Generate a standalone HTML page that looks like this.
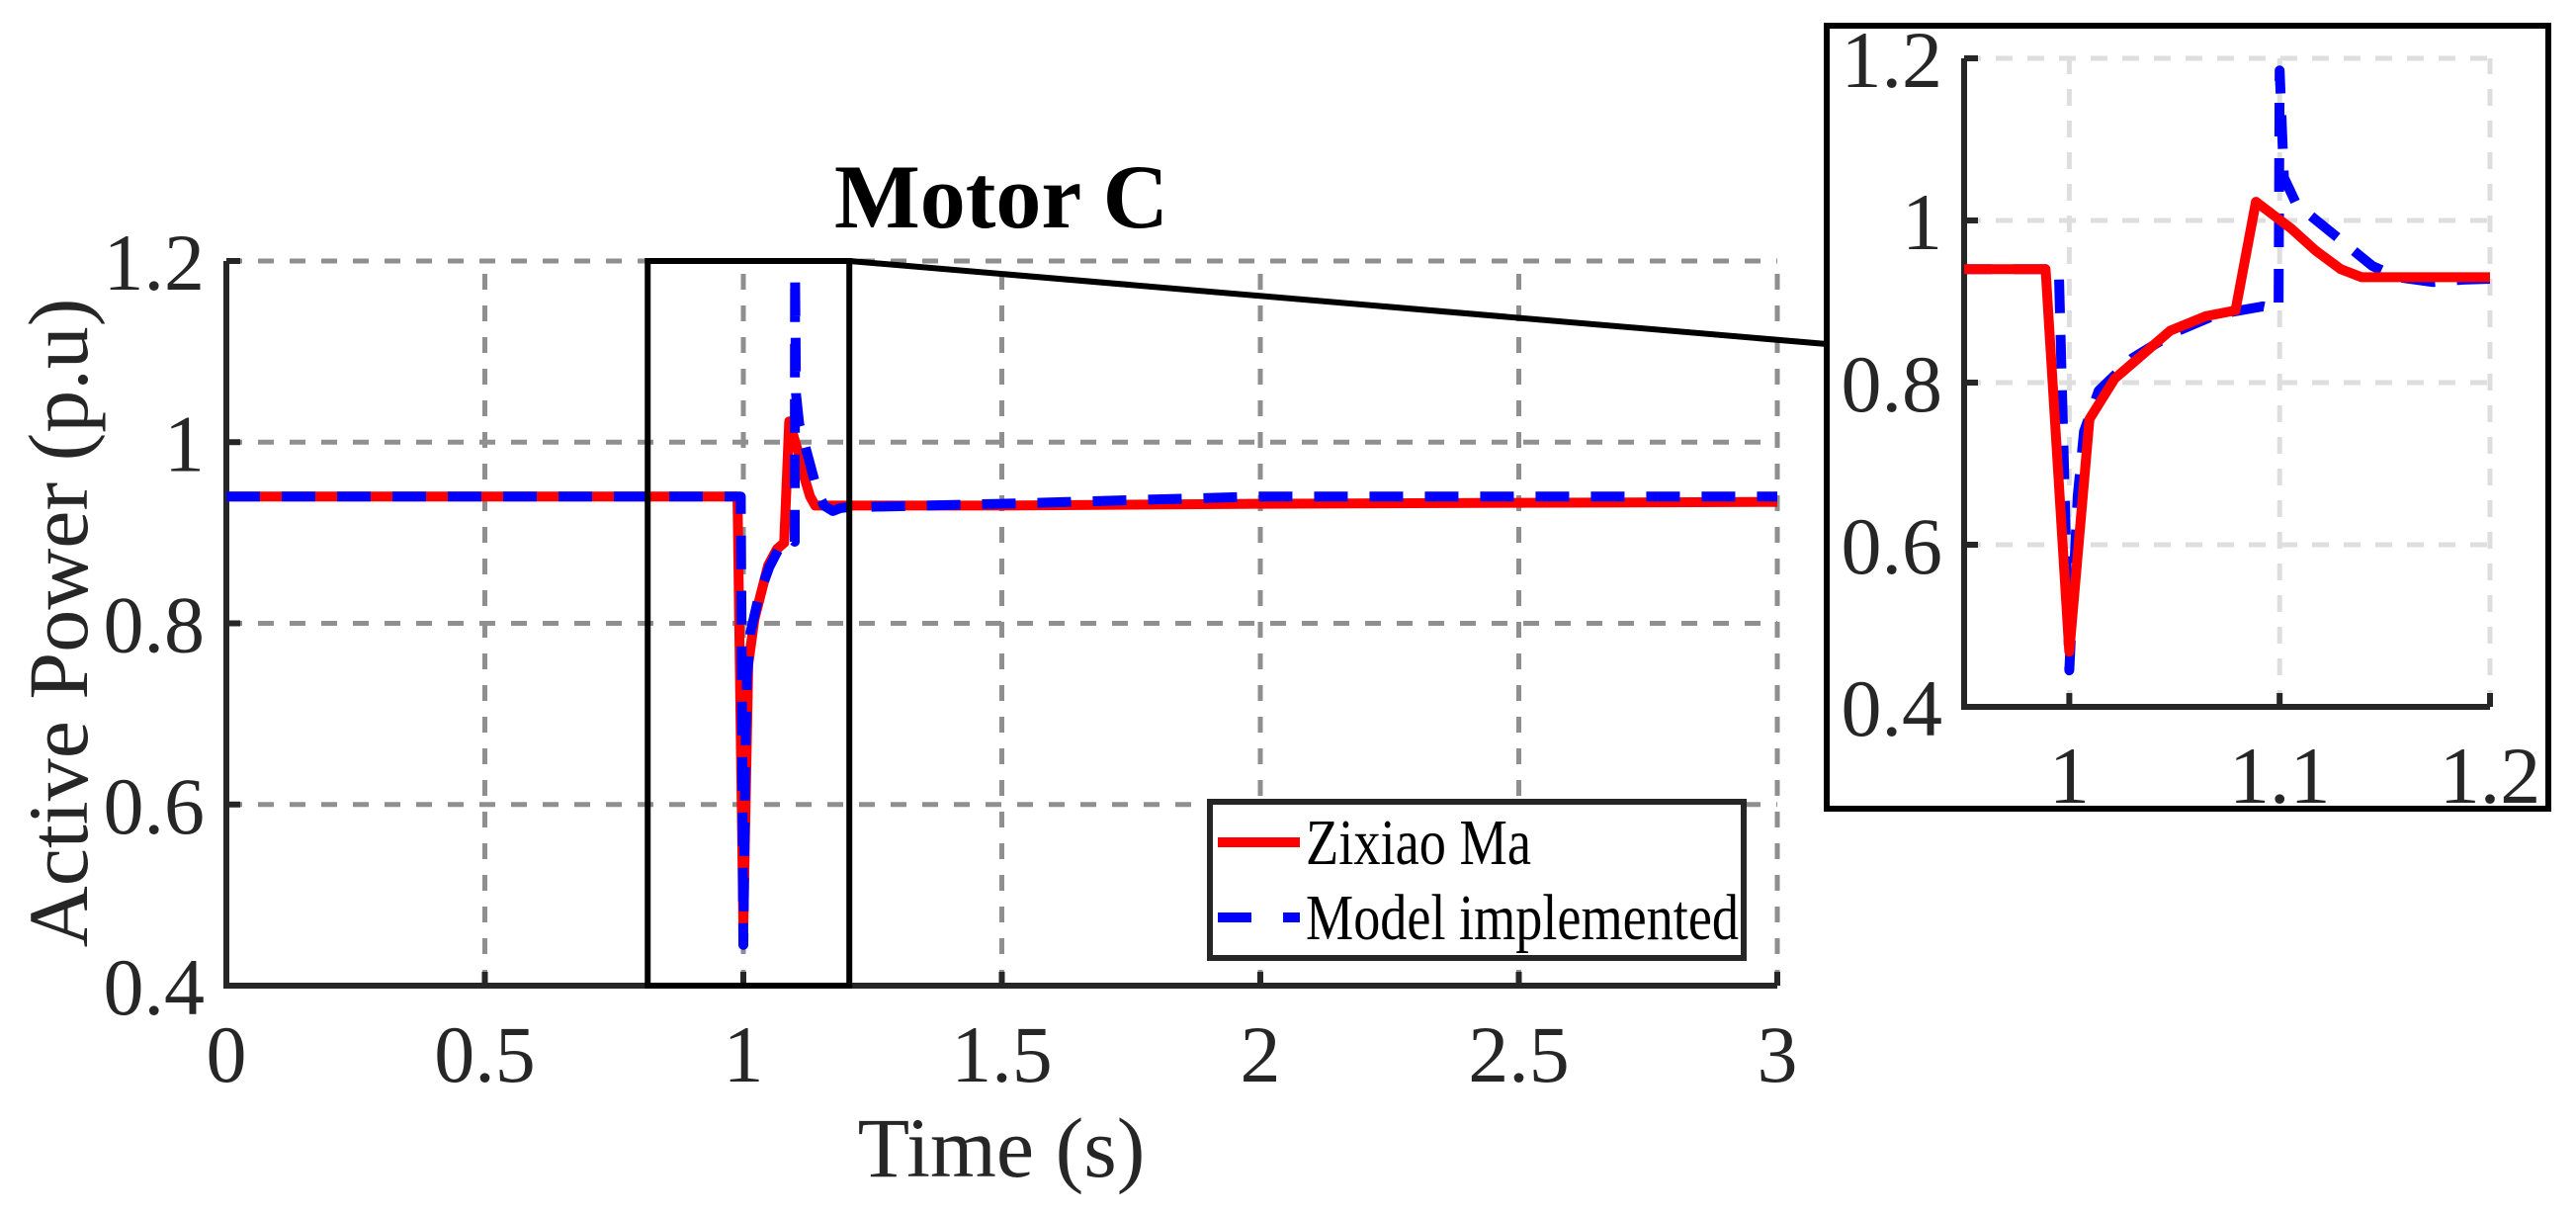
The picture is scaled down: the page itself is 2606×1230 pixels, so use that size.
<!DOCTYPE html>
<html><head><meta charset="utf-8"><style>
html,body{margin:0;padding:0;background:#fff}
svg{display:block}
</style></head><body>
<svg id="chart" width="2606" height="1230" viewBox="0 0 2606 1230" xmlns="http://www.w3.org/2000/svg"></svg>
<script>
const redT = [0,0.5,0.9887,1.0,1.0096,1.0216,1.048,1.065,1.079,1.0887,1.1055,1.117,1.129,1.139,1.2,1.5,2,2.5,3];
const redP = [0.94,0.94,0.94,0.468,0.755,0.805,0.864,0.882,0.889,1.023,0.99,0.963,0.94,0.93,0.93,0.93,0.932,0.933,0.934];
const blueT = [0,0.5,0.995,1.0,1.004,1.007,1.014,1.03,1.05,1.07,1.092,1.0995,1.1,1.102,1.108,1.127,1.144,1.156,1.173,1.187,1.2,1.5,2,2.5,3];
const blueP = [0.94,0.94,0.94,0.445,0.66,0.74,0.79,0.83,0.862,0.884,0.894,0.89,1.185,1.053,1.02,0.98,0.944,0.93,0.924,0.927,0.928,0.932,0.94,0.94,0.94];
const mainXTicks = [0,0.5,1,1.5,2,2.5,3];
const mainXLabels = ["0","0.5","1","1.5","2","2.5","3"];
const yTicks = [0.4,0.6,0.8,1,1.2];
const yLabels = ["0.4","0.6","0.8","1","1.2"];
const insetXTicks = [1,1.1,1.2];
const insetXLabels = ["1","1.1","1.2"];
const zoomRange = [0.815,1.205];

const NS="http://www.w3.org/2000/svg";
const svg=document.getElementById('chart');
function mk(tag,attrs,parent){const e=document.createElementNS(NS,tag);for(const k in attrs)e.setAttribute(k,attrs[k]);(parent||svg).appendChild(e);return e;}

const M={x0:229,x1:1798,y0:997,y1:264,xmin:0,xmax:3,ymin:0.4,ymax:1.2};
const I={x0:1987,x1:2519,y0:715,y1:59,xmin:0.95,xmax:1.2,ymin:0.4,ymax:1.2};
function sx(a,v){return a.x0+(v-a.xmin)/(a.xmax-a.xmin)*(a.x1-a.x0);}
function sy(a,v){return a.y0-(v-a.ymin)/(a.ymax-a.ymin)*(a.y0-a.y1);}
const FONT='"Liberation Serif", serif';

const defs=mk('defs',{});
function clip(id,a){const c=mk('clipPath',{id:id},defs);mk('rect',{x:a.x0,y:a.y1-20,width:a.x1-a.x0,height:a.y0-a.y1+40},c);}
clip('clipMain',M);clip('clipInset',I);

function drawAxes(a,xt,xl,gridColor,gridDash,prefix){
  const g=mk('g',{});
  
  
  xt.forEach(v=>{const x=sx(a,v);const l=mk('line',{x1:x,x2:x,y1:a.y0,y2:a.y1,stroke:gridColor,'stroke-width':5,'stroke-dasharray':gridDash},g);
    
    });
  yTicks.forEach(v=>{const y=sy(a,v);const l=mk('line',{x1:a.x0,x2:a.x1,y1:y,y2:y,stroke:gridColor,'stroke-width':5,'stroke-dasharray':gridDash},g);
    
    });
  const ax=mk('path',{d:`M${a.x0},${a.y1} L${a.x0},${a.y0} L${a.x1},${a.y0}`,fill:'none',stroke:'#262626','stroke-width':6});
  
  
  xt.forEach((v,i)=>{const x=sx(a,v);
    mk('line',{x1:x,x2:x,y1:a.y0,y2:a.y0-14,stroke:'#262626','stroke-width':6});
    const t=mk('text',{x:x,y:a.y0+97,'font-family':FONT,'font-size':82,fill:'#262626','text-anchor':'middle'});t.textContent=xl[i];
    
    });
  yTicks.forEach((v,i)=>{const y=sy(a,v);
    mk('line',{x1:a.x0,x2:a.x0+14,y1:y,y2:y,stroke:'#262626','stroke-width':6});
    const t=mk('text',{x:a.x0-22,y:y+29,'font-family':FONT,'font-size':82,fill:'#262626','text-anchor':'end'});t.textContent=yLabels[i];
    
    });
}
function series(a,T,P,color,dash,w,clipId,name){
  const d=T.map((t,i)=>(i?'L':'M')+sx(a,t).toFixed(1)+','+sy(a,P[i]).toFixed(1)).join(' ');
  const attrs={d:d,fill:'none',stroke:color,'stroke-width':w,'stroke-linejoin':'round','clip-path':'url(#'+clipId+')'};
  if(dash)attrs['stroke-dasharray']=dash;
  const p=mk('path',attrs);
  
  
}

drawAxes(M,mainXTicks,mainXLabels,'#8f8f8f','16 16','main');
series(M,redT,redP,'#ff0000',null,10,'clipMain','main-series-zixiao-ma');
series(M,blueT,blueP,'#0000ff','34 22',10,'clipMain','main-series-model-implemented');

const zx0=sx(M,zoomRange[0]),zx1=sx(M,zoomRange[1]);
const zr=mk('rect',{x:zx0,y:M.y1,width:zx1-zx0,height:M.y0-M.y1,fill:'none',stroke:'#000','stroke-width':6});


const cn=mk('line',{x1:zx1,y1:M.y1,x2:1848,y2:348,stroke:'#000','stroke-width':6});



let t=mk('text',{x:1013,y:230,'font-family':FONT,'font-size':92,'font-weight':'bold',fill:'#000','text-anchor':'middle'});t.textContent='Motor C';


t=mk('text',{x:1013,y:1190,'font-family':FONT,'font-size':86,fill:'#262626','text-anchor':'middle'});t.textContent='Time (s)';


t=mk('text',{x:0,y:0,'font-family':FONT,'font-size':86,fill:'#262626','text-anchor':'middle',transform:'translate(88,630) rotate(-90)'});t.textContent='Active Power (p.u)';



const lg=mk('g',{});


mk('rect',{x:1224,y:811,width:540,height:158,fill:'#fff',stroke:'#262626','stroke-width':6},lg);
mk('line',{x1:1232,x2:1315,y1:852,y2:852,stroke:'#ff0000','stroke-width':10},lg);
mk('line',{x1:1232,x2:1315,y1:928,y2:928,stroke:'#0000ff','stroke-width':10,'stroke-dasharray':'34 32'},lg);
t=mk('text',{x:1321,y:874,'font-family':FONT,'font-size':66,fill:'#000',textLength:228,lengthAdjust:'spacingAndGlyphs'},lg);t.textContent='Zixiao Ma';


t=mk('text',{x:1321,y:950,'font-family':FONT,'font-size':66,fill:'#000',textLength:438,lengthAdjust:'spacingAndGlyphs'},lg);t.textContent='Model implemented';



const ib=mk('rect',{x:1848,y:26,width:730,height:792,fill:'#fff',stroke:'#000','stroke-width':6});


drawAxes(I,insetXTicks,insetXLabels,'#dedede','17 15','inset');
series(I,blueT,blueP,'#0000ff','34 22',10,'clipInset','inset-series-model-implemented');
series(I,redT,redP,'#ff0000',null,10,'clipInset','inset-series-zixiao-ma');
</script>
</body></html>
